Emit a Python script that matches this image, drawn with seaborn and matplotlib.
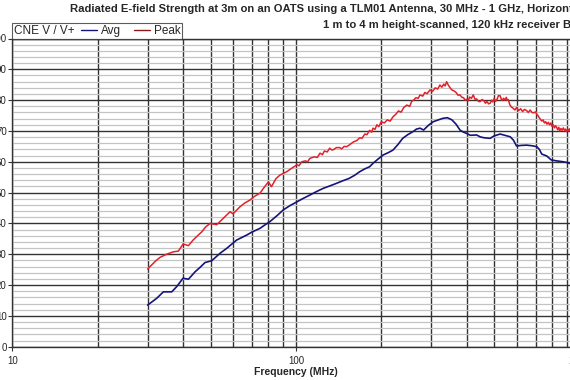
import numpy as np
import pandas as pd
import seaborn as sns
import matplotlib
matplotlib.use('Agg')
import matplotlib.pyplot as plt
from matplotlib.lines import Line2D
from matplotlib.offsetbox import HPacker
from matplotlib.ticker import MultipleLocator, LogLocator, FixedLocator, NullFormatter


# peak trace (MHz, dBuV/m)
peak_freq = [30, 31, 32, 33.2, 35, 37, 38.5, 40, 41.8, 43.4, 45, 46.6, 48, 49.8,
             52.6, 55.5, 58.6, 60, 63.5, 66, 68.9, 71.5, 74.7, 77, 80, 82, 85,
             87.9, 92.9, 97, 100.8, 102.5, 104.9, 108, 110, 112, 116, 119, 121.6,
             124, 126, 129, 131.5, 134, 136, 139, 142.5, 145, 148, 151, 154, 157,
             160, 164, 168, 171, 175, 178, 182, 185, 187, 190, 193, 196, 200, 205,
             210, 215, 220, 225, 230, 235, 240, 246, 252, 256, 260, 265, 270, 274,
             280, 285, 290, 297, 303, 310, 316, 322, 327, 332, 336, 340, 344, 347,
             351, 355, 361, 367, 373, 379, 385, 390, 395, 400, 405, 410, 416, 422,
             428, 434, 440, 446, 453, 460, 466, 471, 478, 484, 490, 495, 500, 506,
             512, 518, 525, 532, 540, 546, 552, 556, 561, 568, 575, 583, 592, 600,
             610, 620, 630, 640, 651, 660, 670, 680, 690, 700, 707, 714, 720, 728,
             736, 744, 752, 760, 768, 776, 784, 792, 800, 808, 816, 823, 830, 838,
             845, 852, 860, 868, 877, 885, 893, 900, 908, 915, 922, 930, 940, 950,
             960, 970, 980, 990, 1000]
peak_val = [25.2, 26.5, 27.8, 29.0, 30.0, 30.8, 31.0, 33.3, 32.8, 34.6, 36.0, 37.3,
            38.8, 40.0, 39.6, 41.7, 43.8, 43.1, 45.4, 46.6, 47.6, 48.8, 49.8, 51.5,
            53.5, 51.9, 54.5, 55.7, 56.8, 58.0, 59.0, 58.7, 60.0, 60.3, 60.0, 61.1,
            61.6, 61.4, 62.8, 62.3, 63.5, 63.2, 64.4, 63.8, 64.0, 64.6, 64.6, 64.2,
            65.0, 64.9, 65.4, 66.0, 66.5, 66.9, 67.8, 67.6, 69.0, 68.8, 70.2, 69.6,
            70.9, 70.5, 72.0, 71.4, 73.0, 72.6, 73.6, 73.2, 74.6, 75.4, 76.5, 76.1,
            77.6, 78.4, 78.0, 79.6, 80.0, 80.8, 80.6, 81.7, 81.3, 82.5, 82.1, 83.3,
            82.8, 84.0, 83.6, 84.9, 84.2, 85.2, 84.6, 86.0, 85.0, 84.5, 83.8, 83.3,
            83.0, 82.5, 81.6, 81.7, 80.9, 80.8, 80.0, 80.3, 79.8, 81.0, 80.6, 81.7,
            80.3, 80.4, 79.6, 79.5, 80.2, 79.8, 79.0, 79.6, 78.8, 79.0, 80.0, 79.4,
            80.5, 79.6, 80.3, 81.5, 81.4, 79.9, 80.6, 80.0, 80.9, 80.0, 80.2, 78.5,
            77.8, 77.4, 76.8, 77.6, 76.6, 77.2, 76.3, 77.0, 76.6, 76.0, 76.8, 76.0,
            75.9, 76.2, 75.4, 75.0, 74.4, 73.8, 73.2, 73.6, 72.6, 73.0, 72.2, 72.8,
            72.0, 72.6, 71.5, 72.0, 71.0, 71.7, 71.2, 70.4, 71.2, 70.0, 70.8, 70.2,
            71.0, 70.2, 70.6, 69.8, 70.6, 70.0, 70.7, 70.0, 70.4, 69.9, 70.5, 69.8,
            70.3, 69.9, 70.1]

# average trace
avg_freq = [30, 32.3, 34.1, 36.5, 38, 40, 41.8, 44.1, 46, 47.8, 50.5, 54, 57, 61.8,
            67, 70, 74.7, 78, 81, 86, 90.3, 95, 100.8, 106, 112, 118, 125, 132, 139,
            146, 154, 161, 168, 175, 182, 187, 195, 203, 212, 220, 229, 238, 248,
            259, 266, 274, 282, 293, 305, 318, 330, 342, 355, 367, 379, 390, 400,
            412, 434, 446, 460, 484, 500, 525, 545, 570, 585, 600, 620, 651, 680,
            707, 722, 736, 766, 795, 830, 877, 900, 922, 950, 980, 1000]
avg_val = [13.5, 15.7, 17.8, 17.8, 19.5, 22.2, 21.9, 24.3, 25.8, 27.3, 27.9, 30.3,
           31.9, 34.6, 36.2, 37.2, 38.4, 39.6, 40.6, 42.6, 44.4, 45.7, 47.0, 48.1,
           49.2, 50.3, 51.4, 52.2, 53.0, 53.8, 54.6, 55.6, 56.8, 57.7, 58.4, 59.5,
           60.9, 62.2, 63.0, 63.8, 65.6, 67.6, 68.8, 69.8, 70.6, 70.9, 70.3, 71.8,
           73.0, 73.6, 74.1, 74.3, 73.6, 72.2, 70.3, 69.6, 69.2, 68.6, 68.7, 68.1,
           67.8, 67.6, 68.4, 69.0, 68.6, 68.1, 67.0, 65.1, 65.3, 65.4, 65.2, 64.9,
           64.0, 62.5, 61.9, 60.6, 60.3, 60.0, 59.8, 59.5, 58.9, 59.3, 58.8]

title_1 = 'Radiated E-field Strength at 3m on an OATS using a TLM01 Antenna, 30 MHz - 1 GHz, Horizontal'
title_2 = '1 m to 4 m height-scanned, 120 kHz receiver BW'

sns.set_style('white')
plt.rcParams['font.family'] = ['Liberation Sans', 'DejaVu Sans']

W, H = 570, 380
fig = plt.figure(figsize=(W / 100, H / 100), dpi=100)
# plot area runs past the right edge, as in the cropped original
ax = fig.add_axes([12.3 / W, (H - 346.7) / H, 567.2 / W, 308.2 / H])

df_peak = pd.DataFrame({'freq': peak_freq, 'val': peak_val})
df_avg = pd.DataFrame({'freq': avg_freq, 'val': avg_val})

sns.lineplot(data=df_avg, x='freq', y='val', ax=ax, color='#14147a', lw=1.2, zorder=3)
sns.lineplot(data=df_peak, x='freq', y='val', ax=ax, color='#e3202a', lw=1.1, zorder=3)

ax.set_xscale('log')
ax.set_xlim(10, 1000)
ax.set_ylim(0, 100)

ax.xaxis.set_major_locator(FixedLocator([10, 100, 1000]))
ax.xaxis.set_minor_locator(LogLocator(base=10, subs=np.arange(2, 10)))
ax.xaxis.set_minor_formatter(NullFormatter())
ax.set_xticklabels(['10', '100', '1000'])
ax.yaxis.set_major_locator(MultipleLocator(10))
ax.yaxis.set_minor_locator(MultipleLocator(2))

ax.grid(which='minor', axis='y', color='#c4c4c4', lw=0.9, zorder=0)
ax.grid(which='major', axis='y', color='#333333', lw=1.0, zorder=1)
ax.grid(which='both', axis='x', color='#333333', lw=1.0, zorder=1)
ax.set_axisbelow(True)

for s in ax.spines.values():
    s.set_color('#333333')
    s.set_linewidth(1.0)

ax.tick_params(axis='both', which='major', labelsize=7, length=3, width=0.8,
               color='#333333', direction='out', left=True, bottom=True)
ax.tick_params(axis='x', which='major', pad=3.5)
ax.tick_params(axis='y', which='major', pad=1)
ax.tick_params(axis='both', which='minor', length=0)

ax.set_xlabel('Frequency (MHz)', fontsize=7.5, fontweight='bold', labelpad=1)
ax.set_ylabel('')

fig.text(582 / W, 1 - 9 / H, title_1, ha='right', va='center', fontsize=8.1, fontweight='bold')
fig.text(582 / W, 1 - 25 / H, title_2, ha='right', va='center', fontsize=8.1, fontweight='bold')

handles = [Line2D([], [], color='#14147a', lw=1),
           Line2D([], [], color='#8a1a1a', lw=1)]
leg = ax.legend(handles, ['Avg', 'Peak'], ncol=2, loc='lower left',
                bbox_to_anchor=(0, 1.0), title='CNE V / V+', title_fontsize=8.5,
                frameon=True, fancybox=False, fontsize=8.5, handlelength=1.4,
                handletextpad=0.3, columnspacing=1.1, borderpad=0.15,
                borderaxespad=0.0)
# put the legend title beside the entries, in one row
leg._legend_box.__class__ = HPacker
leg._legend_box.align = 'center'
leg.get_frame().set_edgecolor('#333333')
leg.get_frame().set_linewidth(0.8)

fig.savefig('out.png', dpi=100)
